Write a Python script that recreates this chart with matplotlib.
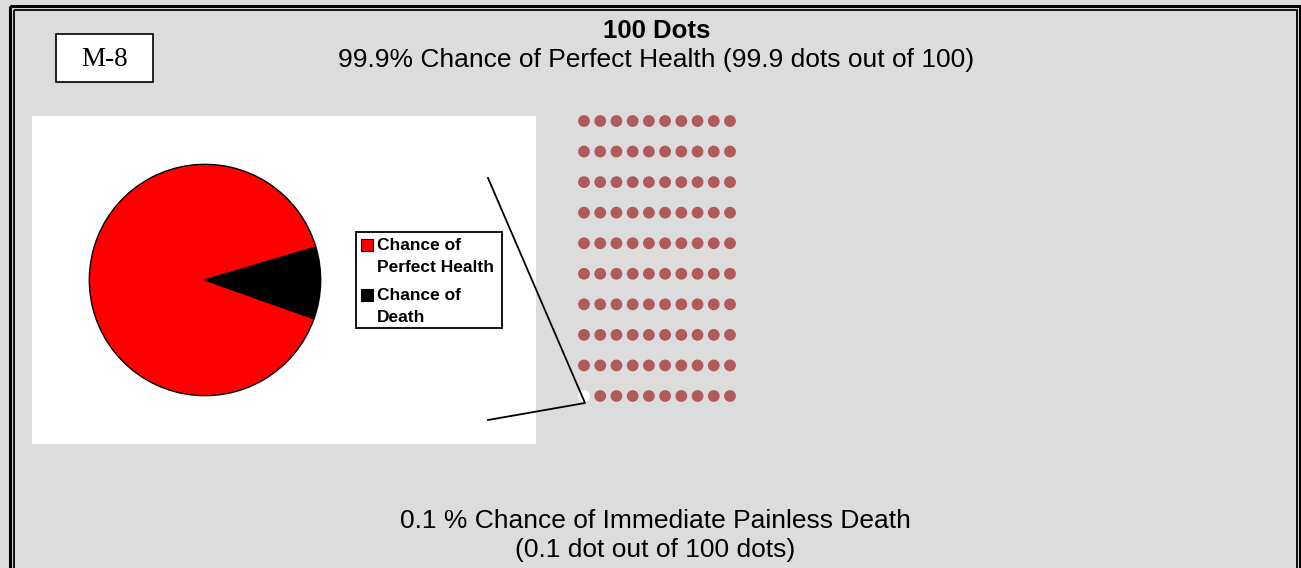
import matplotlib
matplotlib.use("Agg")
import matplotlib.pyplot as plt
from matplotlib.patches import Rectangle
import numpy as np

# ---- data ----
pie_labels = ["Chance of\nPerfect Health", "Chance of\nDeath"]
pie_values = [90, 10]
pie_colors = ["#FF0000", "#000000"]
n_rows = 10
n_cols = 10
dot_color = "#B05A5A"
empty_dot_color = "#FFFFFF"
empty_dots = [(9, 0)]  # (row, col)
title = "100 Dots"
subtitle = "99.9% Chance of Perfect Health (99.9 dots out of 100)"
bottom_lines = ["0.1 % Chance of Immediate Painless Death", "(0.1 dot out of 100 dots)"]
tag = "M-8"

W, H = 1301, 568
fig = plt.figure(figsize=(W / 100, H / 100), dpi=100)
fig.patch.set_facecolor("#DCDCDC")
ax = fig.add_axes([0, 0, 1, 1])
ax.set_xlim(0, W)
ax.set_ylim(H, 0)
ax.axis("off")
ax.set_facecolor("#DCDCDC")

font = "Liberation Sans"

# double border
ax.add_patch(Rectangle((10, 5.5), 1289.5, 570, fill=False, lw=2.2, ec="black"))
ax.add_patch(Rectangle((13.5, 9.5), 1283, 570, fill=False, lw=1.3, ec="black"))

# white panel
ax.add_patch(Rectangle((32, 116), 504, 328, fc="white", ec="none", zorder=1))

# titles
ax.text(657, 30.5, title, ha="center", va="center", fontsize=18.5, fontweight="bold", family=font)
ax.text(656, 60.5, subtitle, ha="center", va="center", fontsize=19, family=font)
ax.text(655, 521, bottom_lines[0], ha="center", va="center", fontsize=19, family=font)
ax.text(655, 550, bottom_lines[1], ha="center", va="center", fontsize=19, family=font)

# tag box
ax.add_patch(Rectangle((56, 34), 97, 48, fc="white", ec="black", lw=1.2, zorder=2))
ax.text(105, 60, tag, ha="center", va="center", fontsize=19.5, family="Liberation Serif", zorder=3)

# dots
xs0, dx = 584, (730 - 584) / (n_cols - 1)
ys0, dy = 121, (396 - 121) / (n_rows - 1)
px, py, pc = [], [], []
for r in range(n_rows):
    for c in range(n_cols):
        px.append(xs0 + c * dx)
        py.append(ys0 + r * dy)
        pc.append(empty_dot_color if (r, c) in empty_dots else dot_color)
ax.scatter(px, py, s=72, c=pc, edgecolors="none", zorder=2)

# connecting lines
ax.plot([488, 585, 488], [178, 403, 420], color="black", lw=1.3, zorder=3)

# legend
ax.add_patch(Rectangle((356, 232), 146, 96, fc="white", ec="black", lw=1.3, zorder=2))
ly = [245, 295]
for i, (lab, col) in enumerate(zip(pie_labels, pie_colors)):
    ax.add_patch(Rectangle((361, ly[i] - 6), 12, 12, fc=col, ec="black", lw=0.8, zorder=3))
    l1, l2 = lab.split("\n")
    ax.text(377, ly[i] + 1, l1, ha="left", va="center", fontsize=12.5, fontweight="bold", family=font, zorder=3)
    ax.text(377, ly[i] + 23, l2, ha="left", va="center", fontsize=12.5, fontweight="bold", family=font, zorder=3)

# pie
cx, cy, rad = 205, 280, 116
pax = fig.add_axes([(cx - rad - 2) / W, 1 - (cy + rad + 2) / H, (2 * rad + 4) / W, (2 * rad + 4) / H])
pax.pie(pie_values, colors=pie_colors, startangle=16.5, counterclock=True,
        wedgeprops=dict(edgecolor="black", linewidth=1.0))
pax.set_xlim(-1.02, 1.02)
pax.set_ylim(-1.02, 1.02)
pax.set_aspect("auto")
pax.axis("off")

fig.savefig("out.png", dpi=100, facecolor=fig.get_facecolor())
